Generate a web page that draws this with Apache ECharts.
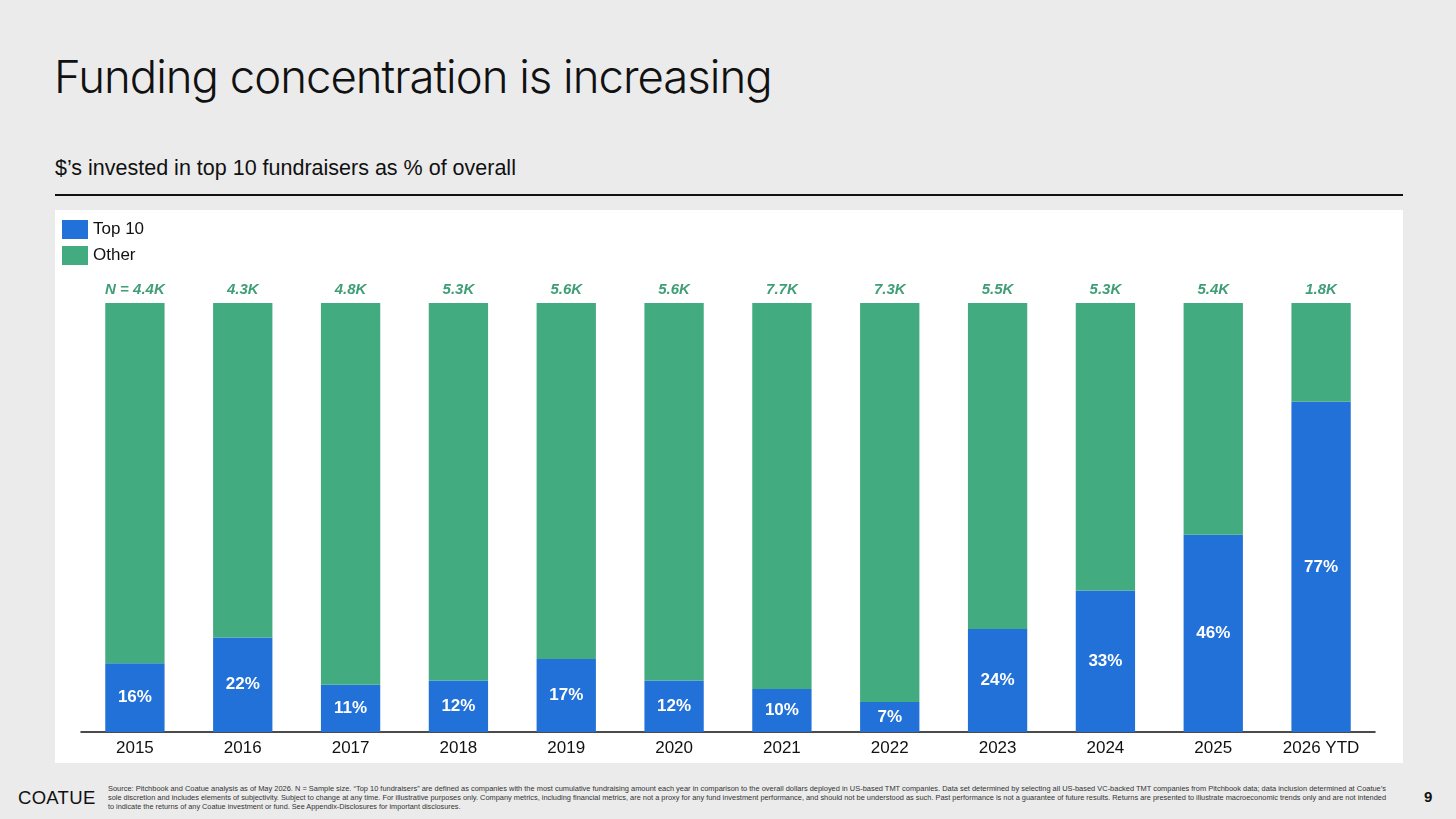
<!DOCTYPE html>
<html>
<head>
<meta charset="utf-8">
<script src="https://cdn.jsdelivr.net/npm/echarts@6/dist/echarts.min.js"></script>
<style>
  body { margin:0; width:1456px; height:819px; background:#ebebeb; position:relative; overflow:hidden; font-family:"Liberation Sans", Arial, sans-serif; }
  .title { position:absolute; left:54px; top:49px; font-family:Inter, "Open Sans", sans-serif; font-weight:300; font-size:45.5px; color:#111; letter-spacing:-1px; }
  .sub { position:absolute; left:55px; top:156px; font-size:21.5px; color:#111; }
  .rule { position:absolute; left:55px; top:194px; width:1348px; height:2px; background:#111; }
  #main { position:absolute; left:55px; top:210px; width:1348px; height:553px; background:#fff; }
  .logo { position:absolute; left:18px; top:787px; font-size:18.5px; color:#111; letter-spacing:0.3px; }
  .note { position:absolute; left:108px; font-size:7.3px; color:#333; white-space:nowrap; transform-origin:left top; }
  .page { position:absolute; left:1424px; top:788px; font-size:15px; font-weight:bold; color:#111; }
</style>
</head>
<body>
<div class="title">Funding concentration is increasing</div>
<div class="sub">$’s invested in top 10 fundraisers as % of overall</div>
<div class="rule"></div>
<div id="main"></div>
<div class="logo">COATUE</div>
<div class="note" style="top:784px">Source: Pitchbook and Coatue analysis as of May 2026. N = Sample size. “Top 10 fundraisers” are defined as companies with the most cumulative fundraising amount each year in comparison to the overall dollars deployed in US-based TMT companies. Data set determined by selecting all US-based VC-backed TMT companies from Pitchbook data; data inclusion determined at Coatue’s</div>
<div class="note" style="top:793px">sole discretion and includes elements of subjectivity. Subject to change at any time. For illustrative purposes only. Company metrics, including financial metrics, are not a proxy for any fund investment performance, and should not be understood as such. Past performance is not a guarantee of future results. Returns are presented to illustrate macroeconomic trends only and are not intended</div>
<div class="note" style="top:802px">to indicate the returns of any Coatue investment or fund. See Appendix-Disclosures for important disclosures.</div>
<div class="page">9</div>

<script>
var years = ['2015','2016','2017','2018','2019','2020','2021','2022','2023','2024','2025','2026 YTD'];
var top10 = [16, 22, 11, 12, 17, 12, 10, 7, 24, 33, 46, 77];
var sampleN = ['N = 4.4K','4.3K','4.8K','5.3K','5.6K','5.6K','7.7K','7.3K','5.5K','5.3K','5.4K','1.8K'];
var other = top10.map(function(v){ return 100 - v; });

// stretch the first two footnote lines to the full width
var notes = document.querySelectorAll('.note');
for (var i = 0; i < 2; i++) {
  var w = notes[i].getBoundingClientRect().width;
  notes[i].style.transform = 'scaleX(' + (1278 / w) + ')';
}

var blue = '#2171d9', green = '#42ab80';
var myChart = echarts.init(document.getElementById('main'));

var option = {
  animation: false,
  legend: {
    orient: 'vertical', left: 2, top: 5,
    itemWidth: 26, itemHeight: 19, itemGap: 7,
    icon: 'rect',
    textStyle: { fontSize: 17, color: '#111', fontFamily: 'Liberation Sans' },
    data: ['Top 10', 'Other']
  },
  grid: { left: 26, right: 28, top: 93, bottom: 31 },
  xAxis: {
    type: 'category', data: years,
    axisLine: { lineStyle: { color: '#111', width: 1.5 } },
    axisTick: { show: false },
    axisLabel: { fontSize: 17, color: '#111', margin: 8, fontFamily: 'Liberation Sans' }
  },
  yAxis: { type: 'value', min: 0, max: 100, show: false, splitLine: { show: false } },
  series: [
    {
      name: 'Top 10', type: 'bar', stack: 'a', barWidth: '55%', data: top10,
      itemStyle: { color: blue },
      label: { show: true, position: 'inside', color: '#fff', fontWeight: 'bold', fontSize: 17,
        fontFamily: 'Liberation Sans', formatter: '{c}%' }
    },
    {
      name: 'Other', type: 'bar', stack: 'a', barWidth: '55%', data: other,
      itemStyle: { color: green },
      label: { show: true, position: 'top', distance: 6, color: '#3f9e76', fontWeight: 'bold', fontStyle: 'italic',
        fontSize: 15, fontFamily: 'Liberation Sans',
        formatter: function(p){ return sampleN[p.dataIndex]; } }
    }
  ]
};

option && myChart.setOption(option);
</script>
</body>
</html>
